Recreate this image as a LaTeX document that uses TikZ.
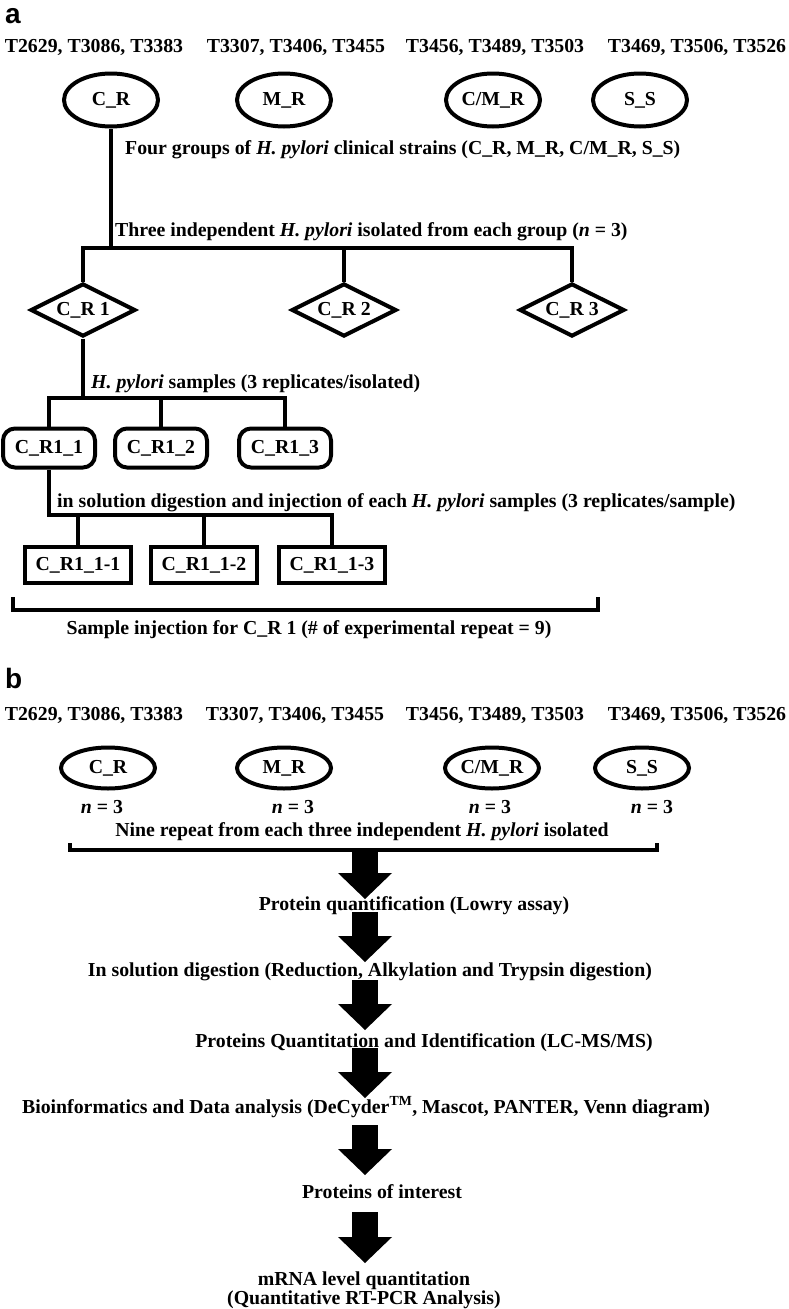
\documentclass[tikz,border=0pt]{standalone}
\usepackage{fontspec}
\setmainfont{Liberation Serif}
\newfontfamily\panelfont{Liberation Sans}
\usetikzlibrary{shapes.geometric,arrows.meta,calc}

\begin{document}
\begin{tikzpicture}[x=1pt, y=-1pt,
  every node/.style={font=\fontsize{19.8}{17}\selectfont\bfseries, inner sep=0pt},
  conn/.style={line width=4pt},
  grp/.style={draw, line width=4pt, ellipse, minimum width=94pt, minimum height=53pt},
  grpb/.style={draw, line width=4pt, ellipse, minimum width=94pt, minimum height=41pt},
  iso/.style={draw, line width=4pt, diamond, aspect=2, minimum width=105pt, minimum height=53pt},
  rep/.style={draw, line width=4pt, rounded corners=12pt, minimum width=92pt, minimum height=39pt},
  inj/.style={draw, line width=4pt, minimum width=106pt, minimum height=36pt},
  panel/.style={font=\panelfont\fontsize{28}{28}\selectfont\bfseries, anchor=north west},
  blockarr/.style={line width=26pt, -{Triangle[width=54pt, length=26pt, line width'=0pt]}}]
\useasboundingbox (0,0) rectangle (788,1309);

% panel a
\node[panel] (pa) at (5,8) {a};
\node (hA1) at (94,47) {T2629, T3086, T3383};
\node (hA2) at (296,47) {T3307, T3406, T3455};
\node (hA3) at (495,47) {T3456, T3489, T3503};
\node (hA4) at (697,47) {T3469, T3506, T3526};
\node[grp] (crA) at (111,100) {C\_R};
\node[grp] (mrA) at (284,100) {M\_R};
\node[grp] (cmA) at (493,100) {C/M\_R};
\node[grp] (ssA) at (640,100) {S\_S};
\node[anchor=west] (grpA) at (125,150) {Four groups of \textit{H. pylori} clinical strains (C\_R, M\_R, C/M\_R, S\_S)};
\node[anchor=west] (isoA) at (115,232) {Three independent \textit{H. pylori} isolated from each group (\textit{n} = 3)};
\node[iso] (cr1) at (83,310) {C\_R 1};
\node[iso] (cr2) at (344,310) {C\_R 2};
\node[iso] (cr3) at (572,310) {C\_R 3};
\node[anchor=west] (repA) at (91,384) {\textit{H. pylori} samples (3 replicates/isolated)};
\node[rep] (s11) at (49,448) {C\_R1\_1};
\node[rep] (s12) at (161,448) {C\_R1\_2};
\node[rep] (s13) at (285,448) {C\_R1\_3};
\node[anchor=west] (injA) at (57,503) {in solution digestion and injection of each \textit{H. pylori} samples (3 replicates/sample)};
\node[inj] (inj1) at (78,565) {C\_R1\_1-1};
\node[inj] (inj2) at (204,565) {C\_R1\_1-2};
\node[inj] (inj3) at (332,565) {C\_R1\_1-3};
\node (sumA) at (309,630) {Sample injection for C\_R 1 (\# of experimental repeat = 9)};

\coordinate (barA) at (0,248);
\coordinate (barB) at (0,398);
\coordinate (barC) at (0,515);
\draw[conn] (crA.south) -- (crA.south |- barA);
\draw[conn] (cr1.north) |- (barA -| cr3.north) -- (cr3.north);
\draw[conn] (cr2.north) -- (cr2.north |- barA);
\draw[conn] (cr1.south) -- (cr1.south |- barB);
\draw[conn] (s11.north) |- (barB -| s13.north) -- (s13.north);
\draw[conn] (s12.north) -- (s12.north |- barB);
\draw[conn] (s11.south) |- (barC -| inj3.north) -- (inj3.north);
\draw[conn] (inj1.north) -- (inj1.north |- barC);
\draw[conn] (inj2.north) -- (inj2.north |- barC);
\draw[conn] (13,597) -- (13,610) -- (598,610) -- (598,597); % bracket under the injections

% panel b
\node[panel] (pb) at (5,668) {b};
\node (hB1) at (94,715) {T2629, T3086, T3383};
\node (hB2) at (295,715) {T3307, T3406, T3455};
\node (hB3) at (495,715) {T3456, T3489, T3503};
\node (hB4) at (697,715) {T3469, T3506, T3526};
\node[grpb] (crB) at (108,768) {C\_R};
\node[grpb] (mrB) at (284,768) {M\_R};
\node[grpb] (cmB) at (492,768) {C/M\_R};
\node[grpb] (ssB) at (642,768) {S\_S};
\node (nB1) at (102,807) {\textit{n} = 3};
\node (nB2) at (293,807) {\textit{n} = 3};
\node (nB3) at (490,807) {\textit{n} = 3};
\node (nB4) at (652,807) {\textit{n} = 3};
\node (nine) at (362,832) {Nine repeat from each three independent \textit{H. pylori} isolated};
\draw[conn] (70,843) -- (70,850) -- (657,850) -- (657,843);
\coordinate (brk) at (365,850);
\coordinate (ax) at (365,0);

\node (quant) at (414,906) {Protein quantification (Lowry assay)};
\node (digest) at (370,972) {In solution digestion (Reduction, Alkylation and Trypsin digestion)};
\node (lcms) at (424,1043) {Proteins Quantitation and Identification (LC-MS/MS)};
\node (bioinf) at (366,1107) {Bioinformatics and Data analysis (DeCyder\textsuperscript{TM}, Mascot, PANTER, Venn diagram)};
\node (interest) at (382,1192) {Proteins of interest};
\node[align=center] (mrna) at (364,1290) {mRNA level quantitation\\(Quantitative RT-PCR Analysis)};

\draw[blockarr] (brk) -- ($(quant.center -| ax)+(0,-7)$);
\draw[blockarr] ($(quant.center -| ax)+(0,6)$) -- ($(digest.center -| ax)+(0,-10)$);
\draw[blockarr] ($(digest.center -| ax)+(0,8)$) -- ($(lcms.center -| ax)+(0,-13)$);
\draw[blockarr] ($(lcms.center -| ax)+(0,5)$) -- ($(bioinf.center -| ax)+(0,-9)$);
\draw[blockarr] ($(bioinf.center -| ax)+(0,18)$) -- ($(interest.center -| ax)+(0,-17)$);
\draw[blockarr] ($(interest.center -| ax)+(0,20)$) -- ($(mrna.center -| ax)+(0,-27)$);
\end{tikzpicture}
\end{document}
